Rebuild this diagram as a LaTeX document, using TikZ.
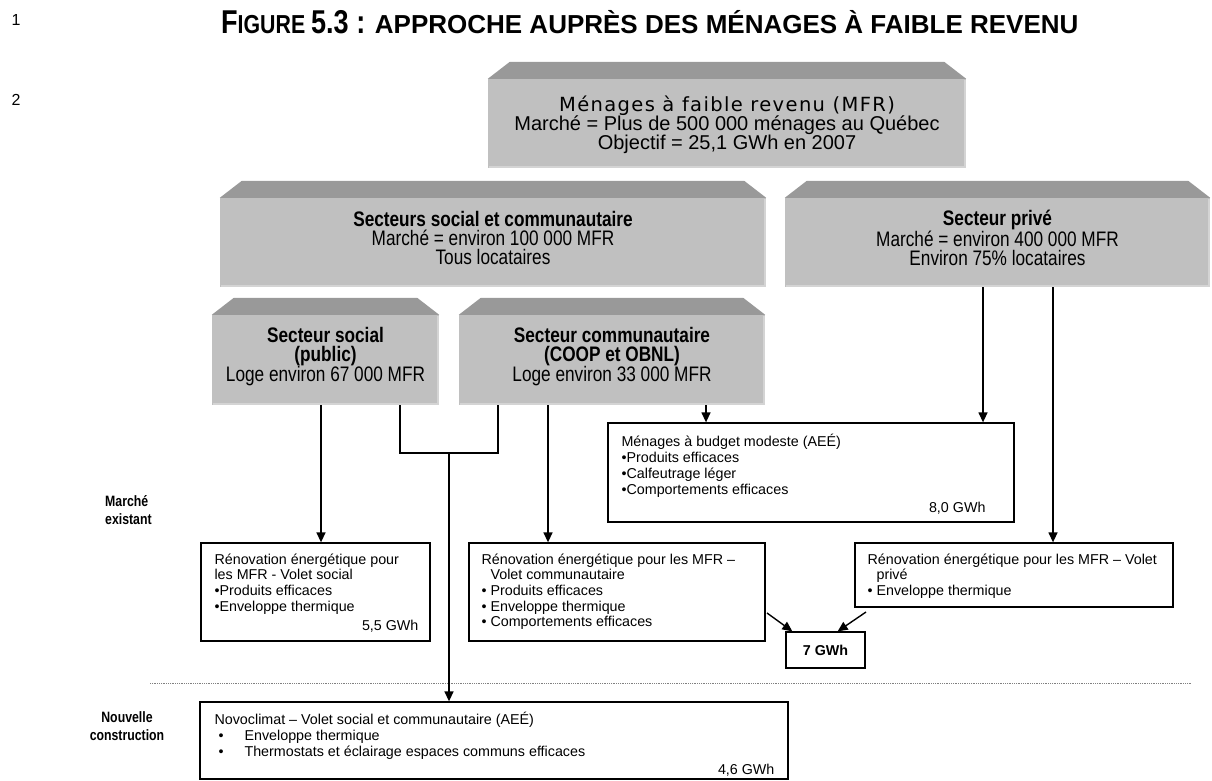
\documentclass[tikz,border=0pt]{standalone}
\usepackage{fontspec}
\setmainfont{Liberation Sans}
\newfontfamily\narrowfont[FakeStretch=0.82]{Liberation Sans}
\newfontfamily\widefont[LetterSpace=7]{DejaVu Sans}
\usetikzlibrary{arrows.meta}
\definecolor{facegray}{RGB}{192,192,192}
\definecolor{facelight}{RGB}{212,212,212}
\definecolor{bevelgray}{RGB}{153,153,153}

\begin{document}
\begin{tikzpicture}[x=1pt,y=-1pt,
  face/.style={fill=facegray,inner sep=0pt},
  facetxt/.style={inner sep=0pt,align=center,font=\narrowfont\fontsize{21}{19}\selectfont},
  wbox/.style={draw,line width=1.3pt,fill=white,inner sep=0pt},
  wtext/.style={anchor=north west,inner sep=0pt,align=left,font=\fontsize{14.3}{15.7}\selectfont},
  gwh/.style={anchor=east,inner sep=0pt,font=\fontsize{14.3}{15.7}\selectfont},
  side/.style={inner sep=0pt,font=\narrowfont\bfseries\fontsize{15}{18}\selectfont},
  link/.style={line width=1.4pt},
  arr/.style={link,-{Triangle[length=10pt,width=9pt]}}]
  \useasboundingbox (0,0) rectangle (1212,781);
  % line numbers and title
  \node[font=\fontsize{16}{16}\selectfont] (ln1) at (16,20) {1};
  \node[font=\fontsize{16}{16}\selectfont] (ln2) at (16,100) {2};
  \node[anchor=west,inner sep=0pt,font=\bfseries] (title) at (221,22)
    {{\narrowfont\fontsize{33}{33}\selectfont F\fontsize{26}{26}\selectfont IGURE
     \fontsize{33}{33}\selectfont 5.3 :}\fontsize{26}{26}\selectfont{} APPROCHE AUPRÈS DES MÉNAGES À FAIBLE REVENU};
  % grey blocks
  \node[face,minimum width=478pt,minimum height=89pt] (mfr) at (727,123.5) {};
  \node[face,minimum width=546pt,minimum height=89pt] (socom) at (493,242.5) {};
  \node[face,minimum width=425pt,minimum height=89pt] (prive) at (997.5,242.5) {};
  \node[face,minimum width=227pt,minimum height=90pt] (social) at (325.5,360) {};
  \node[face,minimum width=306pt,minimum height=90pt] (commu) at (612,360) {};
  \foreach \n in {mfr,socom,prive,social,commu}{
    \fill[bevelgray] (\n.north west) -- ([shift={(22,-17)}]\n.north west)
      -- ([shift={(-22,-17)}]\n.north east) -- (\n.north east) -- cycle;
    \draw[facelight,line width=2pt] ([shift={(1,-1)}]\n.south west) -- ([shift={(-1,-1)}]\n.south east)
      -- ([shift={(-1,1)}]\n.north east);
  }
  \node[facetxt,font=\fontsize{20}{19}\selectfont] (mfrtxt) at ([yshift=-1pt]mfr.center)
    {{\widefont\fontsize{19.5}{19}\selectfont Ménages à faible revenu (MFR)}\\Marché = Plus de 500 000 ménages au Québec\\Objectif = 25,1 GWh en 2007};
  \node[facetxt] (socomtxt) at ([yshift=4.5pt]socom.center)
    {\textbf{Secteurs social et communautaire}\\Marché = environ 100 000 MFR\\Tous locataires};
  \node[facetxt] (privetxt) at ([yshift=4.5pt]prive.center)
    {\textbf{Secteur privé}\\Marché = environ 400 000 MFR\\Environ 75\% locataires};
  \node[facetxt] (socialtxt) at ([yshift=3.5pt]social.center)
    {\textbf{Secteur social}\\\textbf{(public)}\\Loge environ 67 000 MFR};
  \node[facetxt] (commutxt) at ([yshift=3.5pt]commu.center)
    {\textbf{Secteur communautaire}\\\textbf{(COOP et OBNL)}\\Loge environ 33 000 MFR};
  % programmes
  \node[wbox,minimum width=406pt,minimum height=99pt] (budget) at (811,472.5) {};
  \node[wtext] (budgettxt) at ([shift={(14,12)}]budget.north west)
    {Ménages à budget modeste (AEÉ)\\•Produits efficaces\\•Calfeutrage léger\\•Comportements efficaces};
  \node[gwh] (budgetgwh) at ([shift={(-29,-14)}]budget.south east) {8,0 GWh};
  \node[wbox,minimum width=229pt,minimum height=98pt] (renosoc) at (315.5,592) {};
  \node[wtext] (renosoctxt) at ([shift={(14,11)}]renosoc.north west)
    {Rénovation énergétique pour\\les MFR - Volet social\\•Produits efficaces\\•Enveloppe thermique};
  \node[gwh] (renosocgwh) at ([shift={(-12,-15)}]renosoc.south east) {5,5 GWh};
  \node[wbox,minimum width=296pt,minimum height=98pt] (renocom) at (617,592) {};
  \node[wtext] (renocomtxt) at ([shift={(13,11)}]renocom.north west)
    {Rénovation énergétique pour les MFR –\\\hspace*{9pt}Volet communautaire\\• Produits efficaces\\• Enveloppe thermique\\• Comportements efficaces};
  \node[wbox,minimum width=318pt,minimum height=64pt] (renopriv) at (1014,575) {};
  \node[wtext] (renoprivtxt) at ([shift={(13,11)}]renopriv.north west)
    {Rénovation énergétique pour les MFR – Volet\\\hspace*{9pt}privé\\• Enveloppe thermique};
  \node[wbox,minimum width=79pt,minimum height=36pt,font=\bfseries\fontsize{14.3}{15.7}\selectfont] (seven) at (825.5,650) {7 GWh};
  \node[wbox,minimum width=588pt,minimum height=77pt] (novo) at (494,740.5) {};
  \node[wtext] (novotxt) at ([shift={(15,11)}]novo.north west)
    {Novoclimat – Volet social et communautaire (AEÉ)\\
     \makebox[30pt][l]{\hspace*{4pt}•}Enveloppe thermique\\
     \makebox[30pt][l]{\hspace*{4pt}•}Thermostats et éclairage espaces communs efficaces};
  \node[gwh] (novogwh) at ([shift={(-14,-9)}]novo.south east) {4,6 GWh};
  % side labels and separator
  \node[side,anchor=west,align=left] (existing) at (105,510) {Marché\\existant};
  \node[side,align=center] (newbuild) at (127,726) {Nouvelle\\construction};
  \draw[densely dotted,gray,line width=0.8pt] (150,683) -- (1192,683);
  % connectors
  \draw[arr] (321,0 |- social.south) -- (321,0 |- renosoc.north);
  \draw[link] (400,0 |- social.south) -- (400,453) -- (498,453) -- (498,0 |- commu.south);
  \coordinate (join) at (449,453);
  \draw[arr] (join) -- (join |- novo.north);
  \draw[arr] (548,0 |- commu.south) -- (548,0 |- renocom.north);
  \draw[arr] (706,0 |- commu.south) -- (706,0 |- budget.north);
  \draw[arr] (983,0 |- prive.south) -- (983,0 |- budget.north);
  \draw[arr] (1053,0 |- prive.south) -- (1053,0 |- renopriv.north);
  \coordinate (fromcom) at (767,613);
  \coordinate (frompriv) at (866,612);
  \draw[arr] (fromcom) -- ([xshift=7pt]seven.north west);
  \draw[arr] (frompriv) -- ([xshift=-28pt]seven.north east);
\end{tikzpicture}
\end{document}
